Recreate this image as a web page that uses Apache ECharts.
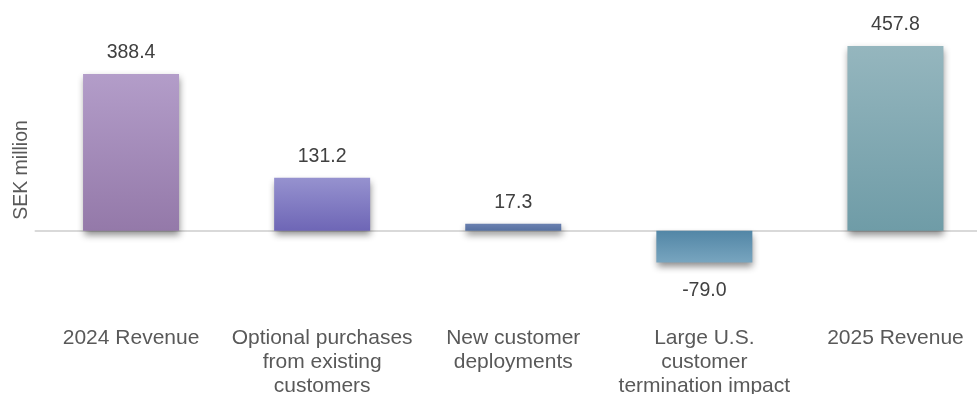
<!DOCTYPE html>
<html>
<head>
<meta charset="utf-8">
<script src="https://cdn.jsdelivr.net/npm/echarts@6/dist/echarts.min.js"></script>
<style>html,body{margin:0;padding:0;background:#fff}#c{width:977px;height:394px}</style>
</head>
<body>
<div id="c"></div>
<script>
const categories = [
  "2024 Revenue",
  "Optional purchases\nfrom existing\ncustomers",
  "New customer\ndeployments",
  "Large U.S.\ncustomer\ntermination impact",
  "2025 Revenue"
];
const values = [388.4, 131.2, 17.3, -79.0, 457.8];
const yAxisName = "SEK million";
const barGradients = [
  ["#b39dc9", "#9479a9"],
  ["#9692cf", "#6e66b6"],
  ["#6a80b0", "#5670a0"],
  ["#5286a6", "#78a5bf"],
  ["#95b6be", "#6f9ca7"]
];

const chart = echarts.init(document.getElementById('c'), null, {renderer: 'canvas'});
const font = "'Liberation Sans', Arial, sans-serif";

const data = values.map((v, i) => ({
  value: v,
  itemStyle: {
    color: new echarts.graphic.LinearGradient(0, 0, 0, 1, [
      {offset: 0, color: barGradients[i][0]},
      {offset: 1, color: barGradients[i][1]}
    ])
  },
  label: {
    position: v < 0 ? 'bottom' : 'top',
    distance: v < 0 ? 18 : 11
  }
}));

chart.setOption({
  animation: false,
  backgroundColor: '#ffffff',
  grid: {left: 35.5, right: -14, top: 29, bottom: 123, containLabel: false, outerBoundsMode: 'none'},
  xAxis: {
    type: 'category',
    data: categories,
    axisLine: {onZero: true, lineStyle: {color: '#d9d9d9', width: 2}},
    axisTick: {show: false},
    axisLabel: {
      color: '#595959',
      fontFamily: font,
      fontSize: 21,
      lineHeight: 24,
      margin: 55,
      interval: 0,
      hideOverlap: false,
      verticalAlign: 'top'
    }
  },
  yAxis: {
    type: 'value',
    min: -100,
    max: 500,
    name: yAxisName,
    nameLocation: 'middle',
    nameGap: 4,
    nameRotate: 90,
    nameTextStyle: {color: '#595959', fontFamily: font, fontSize: 19.5, padding: [0, 40, 0, 0]},
    axisLine: {show: false},
    axisTick: {show: false},
    axisLabel: {show: false},
    splitLine: {show: false}
  },
  series: [{
    type: 'bar',
    data: data,
    barWidth: 96,
    itemStyle: {
      shadowColor: 'rgba(0,0,0,0.45)',
      shadowBlur: 7,
      shadowOffsetX: 1,
      shadowOffsetY: 4
    },
    label: {
      show: true,
      color: '#404040',
      fontFamily: font,
      fontSize: 19.5,
      formatter: p => p.value.toFixed(1)
    }
  }]
});
</script>
</body>
</html>
